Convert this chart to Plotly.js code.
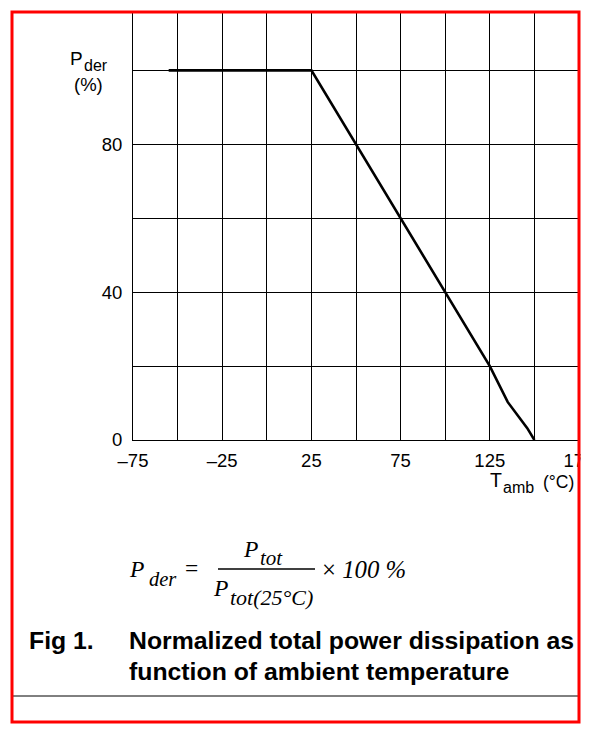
<!DOCTYPE html>
<html>
<head>
<meta charset="utf-8">
<script src="https://cdn.plot.ly/plotly-3.0.1.min.js"></script>
<style>
  html, body { margin: 0; padding: 0; background: #fff; }
  #chart { width: 591px; height: 735px; }
</style>
</head>
<body>
<div id="chart"></div>
<script>
// ---- data ----
const temperature = [-55, 25, 125, 135, 146, 150];   // T_amb (°C)
const pDer = [100, 100, 20, 10.3, 3.2, 0];            // P_der (%)
const xTickVals = [-75, -50, -25, 0, 25, 50, 75, 100, 125, 150, 175];
const xTickText = ['\u201375', '', '\u201325', '', '25', '', '75', '', '125', '', '175'];
const yTickVals = [0, 20, 40, 60, 80, 100];
const yTickText = ['0', '', '40', '', '80', ''];

// ---- layout helpers (pixel -> paper) ----
const W = 591, H = 735;
const M = {l: 133, r: 12, t: 12, b: 295};
const PW = W - M.l - M.r, PH = H - M.t - M.b;
const fx = px => (px - M.l) / PW;
const fy = py => (H - M.b - py) / PH;

const SANS = 'Liberation Sans, Arial, Helvetica, sans-serif';
const SERIF = 'Liberation Serif, Times New Roman, serif';

function ann(text, px, py, opts) {
  return Object.assign({
    text: text, xref: 'paper', yref: 'paper', x: fx(px), y: fy(py),
    xanchor: 'left', yanchor: 'middle', showarrow: false,
    font: {family: SANS, size: 18.5, color: '#000'}
  }, opts || {});
}
const sans = s => ({family: SANS, size: s, color: '#000'});
const serif = s => ({family: SERIF, size: s, color: '#000'});

const trace = {
  x: temperature, y: pDer, type: 'scatter', mode: 'lines',
  line: {color: '#000', width: 2.6}, hoverinfo: 'none'
};

const annotations = [
  // y-axis title
  ann('P', 67.5, 59, {font: sans(19)}),
  ann('der', 81.5, 66, {font: sans(16)}),
  ann('(%)', 88, 84, {xanchor: 'center', font: sans(18.5)}),
  // x-axis title
  ann('T', 488, 480, {font: sans(19.5)}),
  ann('amb', 500.5, 487.5, {font: sans(16)}),
  ann('(°C)', 541, 482, {font: sans(17.5)}),
  // formula
  ann('<i>P</i>', 127, 569, {font: serif(23.5)}),
  ann('<i>der</i>', 147, 579, {font: serif(20.5)}),
  ann('=', 183, 568, {font: serif(23.5)}),
  ann('<i>P</i>', 241, 549, {font: serif(23.5)}),
  ann('<i>tot</i>', 258, 558, {font: serif(21)}),
  ann('<i>P</i>', 211, 588, {font: serif(23.5)}),
  ann('<i>tot(25°C)</i>', 228, 597, {font: serif(22)}),
  ann('× <i>100 %</i>', 320, 569, {font: serif(24.8)}),
  // caption
  ann('<b>Fig 1.</b>', 27, 640, {font: sans(24.8)}),
  ann('<b>Normalized total power dissipation as</b>', 127, 640, {font: sans(24.8)}),
  ann('<b>function of ambient temperature</b>', 127, 671, {font: sans(24.8)})
];

const shapes = [
  // fraction bar
  {type: 'line', xref: 'paper', yref: 'paper', x0: fx(218), x1: fx(315), y0: fy(569), y1: fy(569),
   line: {color: '#000', width: 1.6}, layer: 'above'},
  // separator line
  {type: 'line', xref: 'paper', yref: 'paper', x0: fx(11), x1: fx(580), y0: fy(696), y1: fy(696),
   line: {color: '#000', width: 1}, layer: 'above'},
  // white mask beyond the frame (clips the "175" label)
  {type: 'rect', xref: 'paper', yref: 'paper', x0: fx(580.5), x1: fx(600), y0: fy(-5), y1: fy(740),
   fillcolor: '#fff', line: {width: 0}, layer: 'above'},
  // red frame
  {type: 'rect', xref: 'paper', yref: 'paper', x0: fx(12), x1: fx(579), y0: fy(12), y1: fy(722),
   line: {color: '#ff0000', width: 3}, fillcolor: 'rgba(0,0,0,0)', layer: 'above'}
];

const layout = {
  width: W, height: H,
  margin: {l: M.l, r: M.r, t: M.t, b: M.b, pad: 0},
  paper_bgcolor: '#fff', plot_bgcolor: '#fff',
  showlegend: false,
  font: {family: SANS, color: '#000'},
  xaxis: {
    range: [-75, 175], tickmode: 'array', tickvals: xTickVals, ticktext: xTickText,
    showgrid: true, gridcolor: '#000', gridwidth: 1, zeroline: false,
    showline: true, linecolor: '#000', linewidth: 1, mirror: true,
    ticks: '', ticklabelstandoff: 4, ticklabeloverflow: 'allow',
    tickfont: sans(18.5), fixedrange: true
  },
  yaxis: {
    range: [0, 115.8], tickmode: 'array', tickvals: yTickVals, ticktext: yTickText,
    showgrid: true, gridcolor: '#000', gridwidth: 1, zeroline: false,
    showline: true, linecolor: '#000', linewidth: 1, mirror: true,
    ticks: '', ticklabelstandoff: 6, ticklabeloverflow: 'allow',
    tickfont: sans(18.5), fixedrange: true
  },
  annotations: annotations,
  shapes: shapes
};

Plotly.newPlot('chart', [trace], layout, {displayModeBar: false, staticPlot: true});
</script>
</body>
</html>
